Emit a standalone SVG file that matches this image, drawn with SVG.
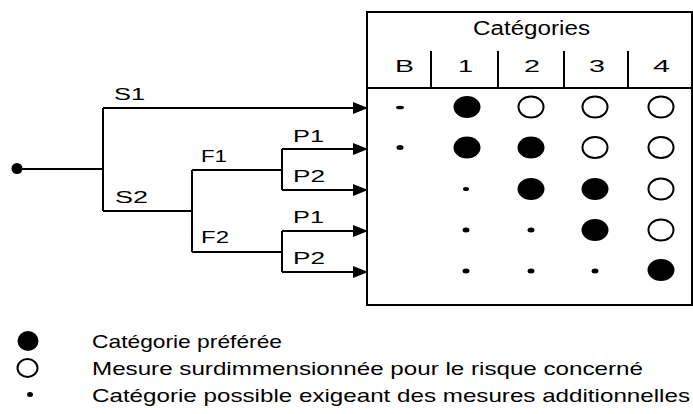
<svg xmlns="http://www.w3.org/2000/svg" width="693" height="414" viewBox="0 0 693 414">
  <style>
    .ln { fill: none; stroke: #000; stroke-width: 2; }
    .txt { font-family: "Liberation Sans", Arial, sans-serif; fill: #000; }
    .lbl { font-size: 16px; }
    .hdr { font-size: 20px; }
    .col { font-size: 17px; }
    .leg { font-size: 19px; }
    .full { fill: #000; }
    .open { fill: #fff; stroke: #000; stroke-width: 2; }
    .dot { fill: #000; }
  </style>
  <defs>
    <marker id="arrow" markerUnits="userSpaceOnUse" markerWidth="15" markerHeight="12" refX="0" refY="6" orient="auto">
      <path d="M0,0 L15,6 L0,12 z" fill="#000"/>
    </marker>
  </defs>

  <rect width="693" height="414" fill="#fff"/>

  <!-- decision tree connectors -->
  <g id="connectors">
    <circle cx="17" cy="168.5" r="5.5" fill="#000"/>
    <path class="ln" d="M17,169 H103"/>
    <path class="ln" d="M103,108 V211"/>
    <path class="ln" d="M103,108 H353" marker-end="url(#arrow)"/>
    <path class="ln" d="M103,211 H192"/>
    <path class="ln" d="M192,170 V252"/>
    <path class="ln" d="M192,170 H282"/>
    <path class="ln" d="M192,252 H282"/>
    <path class="ln" d="M282,149 V190"/>
    <path class="ln" d="M282,231 V272"/>
    <path class="ln" d="M282,149 H353" marker-end="url(#arrow)"/>
    <path class="ln" d="M282,190 H353" marker-end="url(#arrow)"/>
    <path class="ln" d="M282,231 H353" marker-end="url(#arrow)"/>
    <path class="ln" d="M282,272 H353" marker-end="url(#arrow)"/>
  </g>

  <!-- branch labels -->
  <g id="branch-labels" class="txt lbl">
    <text x="114" y="100" textLength="31" lengthAdjust="spacingAndGlyphs">S1</text>
    <text x="115" y="203" textLength="33" lengthAdjust="spacingAndGlyphs">S2</text>
    <text x="201" y="162" textLength="26" lengthAdjust="spacingAndGlyphs">F1</text>
    <text x="201" y="243" textLength="28" lengthAdjust="spacingAndGlyphs">F2</text>
    <text x="293" y="142" textLength="31" lengthAdjust="spacingAndGlyphs">P1</text>
    <text x="293" y="182" textLength="32" lengthAdjust="spacingAndGlyphs">P2</text>
    <text x="293" y="223" textLength="31" lengthAdjust="spacingAndGlyphs">P1</text>
    <text x="293" y="264" textLength="32" lengthAdjust="spacingAndGlyphs">P2</text>
  </g>

  <!-- category table -->
  <g id="table">
    <rect class="ln" x="367" y="12" width="325" height="293"/>
    <path class="ln" d="M367,88 H692"/>
    <path class="ln" d="M431,51 V88 M498,51 V88 M564,51 V88 M628,51 V88"/>
    <g class="txt">
      <text class="hdr" x="473" y="35" textLength="117" lengthAdjust="spacingAndGlyphs">Catégories</text>
      <text class="col" x="395" y="72" textLength="19" lengthAdjust="spacingAndGlyphs">B</text>
      <text class="col" x="458" y="72" textLength="15" lengthAdjust="spacingAndGlyphs">1</text>
      <text class="col" x="524" y="72" textLength="16" lengthAdjust="spacingAndGlyphs">2</text>
      <text class="col" x="589" y="72" textLength="16" lengthAdjust="spacingAndGlyphs">3</text>
      <text class="col" x="653" y="72" textLength="17" lengthAdjust="spacingAndGlyphs">4</text>
    </g>
  </g>

  <!-- row S1 -->
  <g id="row-s1">
    <ellipse class="dot" cx="400" cy="107.5" rx="4" ry="1.8"/>
    <ellipse class="full" cx="467" cy="107" rx="13.5" ry="11"/>
    <ellipse class="open" cx="531" cy="107" rx="12.5" ry="10.5"/>
    <ellipse class="open" cx="595" cy="107" rx="12.5" ry="10.5"/>
    <ellipse class="open" cx="661" cy="107" rx="12.5" ry="10.5"/>
  </g>

  <!-- row S2 F1 P1 -->
  <g id="row-f1-p1">
    <ellipse class="dot" cx="400" cy="147.5" rx="3.5" ry="2.5"/>
    <ellipse class="full" cx="467" cy="147.5" rx="13.5" ry="11"/>
    <ellipse class="full" cx="531" cy="147.5" rx="13.5" ry="11"/>
    <ellipse class="open" cx="595" cy="147.5" rx="12.5" ry="10.5"/>
    <ellipse class="open" cx="661" cy="147.5" rx="12.5" ry="10.5"/>
  </g>

  <!-- row S2 F1 P2 -->
  <g id="row-f1-p2">
    <ellipse class="dot" cx="466" cy="189" rx="3" ry="2"/>
    <ellipse class="full" cx="531" cy="189" rx="13.5" ry="11"/>
    <ellipse class="full" cx="595" cy="189" rx="13.5" ry="11"/>
    <ellipse class="open" cx="661" cy="189" rx="12.5" ry="10.5"/>
  </g>

  <!-- row S2 F2 P1 -->
  <g id="row-f2-p1">
    <ellipse class="dot" cx="466" cy="230" rx="3.5" ry="2.5"/>
    <ellipse class="dot" cx="531" cy="230" rx="3.5" ry="2.5"/>
    <ellipse class="full" cx="595" cy="230" rx="13.5" ry="11"/>
    <ellipse class="open" cx="661" cy="230" rx="12.5" ry="10.5"/>
  </g>

  <!-- row S2 F2 P2 -->
  <g id="row-f2-p2">
    <ellipse class="dot" cx="466" cy="271" rx="3.5" ry="2.5"/>
    <ellipse class="dot" cx="531" cy="271" rx="3.5" ry="2.5"/>
    <ellipse class="dot" cx="595" cy="271" rx="3.5" ry="2.5"/>
    <ellipse class="full" cx="661" cy="270" rx="13.5" ry="11"/>
  </g>

  <!-- legend -->
  <g id="legend">
    <ellipse class="full" cx="28" cy="341" rx="10.5" ry="10"/>
    <ellipse class="open" cx="27.5" cy="368" rx="10" ry="9"/>
    <ellipse class="dot" cx="30" cy="394.5" rx="3" ry="2.5"/>
    <g class="txt leg">
      <text x="92" y="348" textLength="190" lengthAdjust="spacingAndGlyphs">Catégorie préférée</text>
      <text x="92" y="375" textLength="551" lengthAdjust="spacingAndGlyphs">Mesure surdimmensionnée pour le risque concerné</text>
      <text x="92" y="402" textLength="598" lengthAdjust="spacingAndGlyphs">Catégorie possible exigeant des mesures additionnelles</text>
    </g>
  </g>
</svg>
